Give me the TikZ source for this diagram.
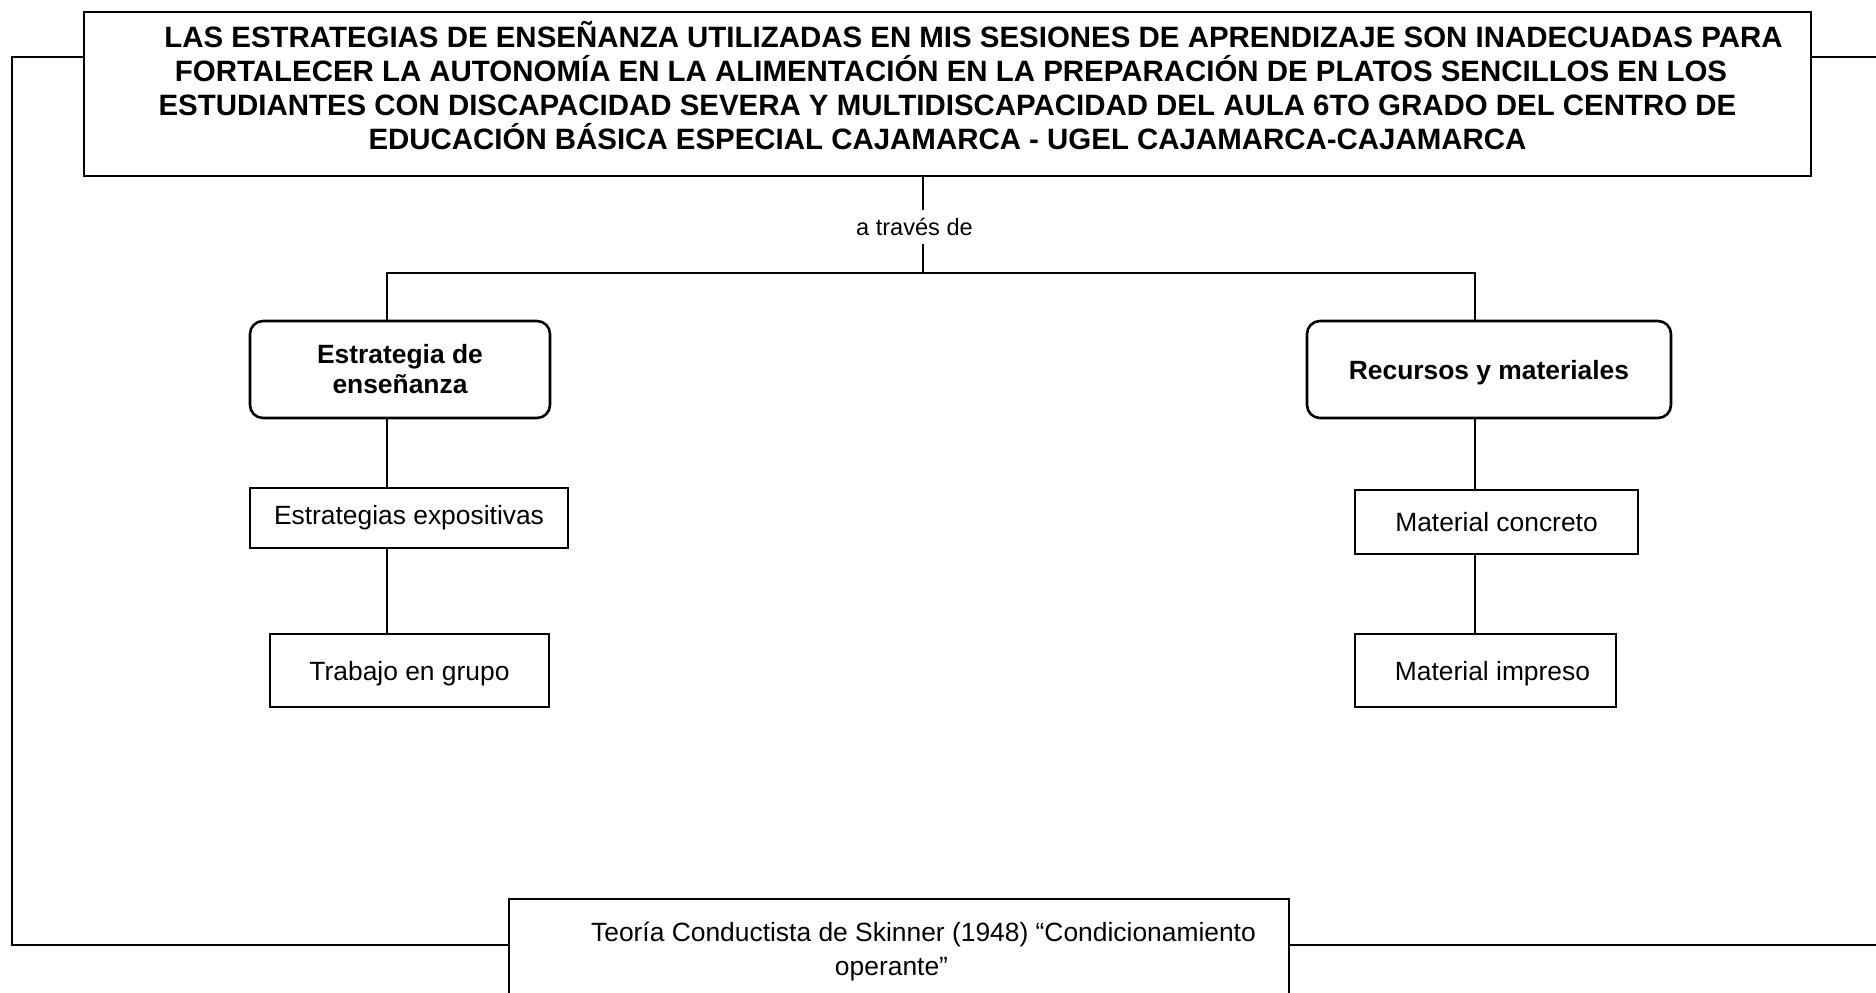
\documentclass[tikz,border=0pt]{standalone}
\usepackage{fontspec}
\setmainfont{Liberation Sans}
\begin{document}
\begin{tikzpicture}[x=0.5pt,y=-0.5pt,
  line width=1.3pt, line cap=rect,
  box/.style={draw, rectangle, inner sep=0pt, align=center},
  rbox/.style={draw, rectangle, rounded corners=6.5pt, inner sep=0pt, align=center},
  bodyfont/.style={font=\fontsize{13.2}{15}\selectfont},
  boldfont/.style={font=\fontsize{13.2}{15}\selectfont\bfseries},
  titlefont/.style={font=\fontsize{14.72}{17.1}\selectfont\bfseries},
  viafont/.style={font=\fontsize{11.8}{14}\selectfont}]
\useasboundingbox (0,0) rectangle (1876,992);
\clip (0,0) rectangle (1876,992);

% title box and text
\node[box, minimum width=863.5pt, minimum height=82pt] (top) at (947.5,94) {};
\node[titlefont, align=center, inner sep=0pt] (title) at (947.5,85.6)
  {\hspace*{26pt}LAS ESTRATEGIAS DE ENSEÑANZA UTILIZADAS EN MIS SESIONES DE APRENDIZAJE SON INADECUADAS PARA\\
   \hspace*{3.5pt}FORTALECER LA AUTONOMÍA EN LA ALIMENTACIÓN EN LA PREPARACIÓN DE PLATOS SENCILLOS EN LOS\\
   ESTUDIANTES CON DISCAPACIDAD SEVERA Y MULTIDISCAPACIDAD DEL AULA 6TO GRADO DEL CENTRO DE\\
   EDUCACIÓN BÁSICA ESPECIAL CAJAMARCA - UGEL CAJAMARCA-CAJAMARCA};

% label
\node[viafont, inner sep=0pt, minimum height=17pt] (via) at (914.5,227) {a través de};

% second level
\node[rbox, boldfont, minimum width=150pt, minimum height=48.5pt] (est) at (400,369.5) {Estrategia de\\enseñanza};
\node[rbox, boldfont, text depth=0pt, minimum width=182pt, minimum height=48.5pt] (rec) at (1489,369.5) {Recursos y materiales};

% third level
\node[box, bodyfont, minimum width=159pt, minimum height=30pt] (exp) at (409,518) {Estrategias expositivas};
\node[box, bodyfont, text depth=0pt, minimum width=139.5pt, minimum height=36.5pt] (trab) at (409.5,670.5) {Trabajo en grupo};
\node[box, bodyfont, minimum width=141.5pt, minimum height=32pt] (conc) at (1496.5,522) {Material concreto};
\node[box, bodyfont, text depth=0pt, minimum width=130.5pt, minimum height=36.5pt] (imp) at (1485.5,670.5) {\hspace*{7pt}Material impreso};

% bottom theory box
\node[box, minimum width=390pt, minimum height=61pt] (teobox) at (899,960) {};
\node[font=\fontsize{13.2}{17}\selectfont, align=center, inner sep=0pt] (teo) at (923.5,952)
  {Teoría Conductista de Skinner (1948) “Condicionamiento\\operante”\hspace*{32pt}};

% coordinates
\coordinate (hub) at (923,273);
\coordinate (lb) at (387,273);
\coordinate (rb) at (1475,273);
\coordinate (L1) at (12,57);
\coordinate (L2) at (12,945);
\coordinate (R1) at (1885,57);
\coordinate (R2) at (1885,945);

% connectors
\draw (top.south -| hub) -- (via.north -| hub);
\draw (via.south -| hub) -- (hub);
\draw (lb) -- (rb);
\draw (lb) -- (lb |- est.north);
\draw (rb) -- (rb |- rec.north);
\draw (lb |- est.south) -- (lb |- exp.north);
\draw (lb |- exp.south) -- (lb |- trab.north);
\draw (rb |- rec.south) -- (rb |- conc.north);
\draw (rb |- conc.south) -- (rb |- imp.north);

\draw[line cap=butt] (top.west |- L1) -- (L1) -- (L2) -- (L2 -| teobox.west);
\draw (top.east |- R1) -- (R1);
\draw (teobox.east |- R2) -- (R2);
\end{tikzpicture}
\end{document}
